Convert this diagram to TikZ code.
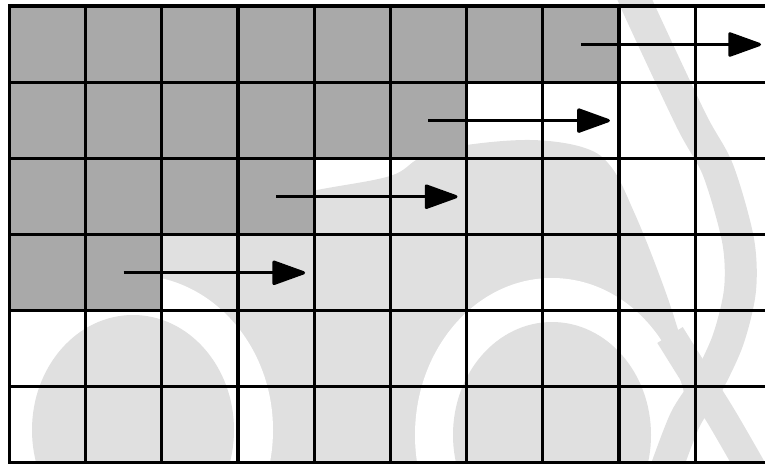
\documentclass[tikz,border=0pt]{standalone}
\usetikzlibrary{arrows.meta}
\definecolor{wm}{RGB}{224,224,224}
\definecolor{cellgrey}{RGB}{169,169,169}
\tikzset{
  gridline/.style={line width=3.2pt, draw=black, line cap=rect},
  arr/.style={line width=3.2pt, draw=black, -{Triangle[length=36pt,width=25pt,round]}},
  wband/.style={draw=wm, line width=32pt, line cap=butt},
  shaded/.style={fill=cellgrey, draw=none},
}
\begin{document}
\begin{tikzpicture}[x=1pt,y=-1pt]
\useasboundingbox (0,0) rectangle (765,463);
\clip (0,0) rectangle (765,463);
% ---- pale watermark in the background ----
\fill[wm] plot[smooth, tension=0.6] coordinates {(20,400) (40,330) (90,270) (170,228) (250,204) (317,190) (390,176) (420,158) (460,146) (530,140) (585,148) (612,168) (634,212) (656,266) (675,320) (688,370) (688,420) (686,480)} -- (20,480) -- cycle;
\fill[white] (133,430) ellipse [x radius=140pt, y radius=155pt];
\fill[wm] (133,430) ellipse [x radius=101pt, y radius=115pt];
\fill[white] (552,435) ellipse [x radius=137pt, y radius=157pt];
\fill[wm] (552,435) ellipse [x radius=99pt, y radius=113pt];
\draw[wband] plot[smooth] coordinates {(625,-25) (638,7) (691,120) (718,170) (738,240) (740,290) (728,340) (707,385) (685,420) (664,475)};
\draw[wband, line width=30pt] plot[smooth] coordinates {(670,335) (695,375) (722,418) (752,470)};
% ---- shaded cells ----
\fill[shaded] (9.3,6) rectangle (618.9,82.1);
\fill[shaded] (9.3,82.1) rectangle (466.5,158.2);
\fill[shaded] (9.3,158.2) rectangle (314.1,234.3);
\fill[shaded] (9.3,234.3) rectangle (161.7,310.4);
% ---- grid ----
\foreach \i in {0,...,10} {
  \draw[gridline] ({9.3+76.2*\i},6) -- ({9.3+76.2*\i},462.6);
}
\foreach \j in {0,...,6} {
  \draw[gridline] (9.3,{6+76.1*\j}) -- (790,{6+76.1*\j});
}
% ---- arrows ----
\coordinate (s0) at (123.6,272.8);
\coordinate (e0) at (305.1,272.8);
\coordinate (s1) at (276.0,196.7);
\coordinate (e1) at (457.5,196.7);
\coordinate (s2) at (428.4,120.6);
\coordinate (e2) at (609.9,120.6);
\coordinate (s3) at (580.8,44.5);
\coordinate (e3) at (761.0,44.5);
\draw[arr] (s0) -- (e0);
\draw[arr] (s1) -- (e1);
\draw[arr] (s2) -- (e2);
\draw[arr] (s3) -- (e3);
\end{tikzpicture}
\end{document}
